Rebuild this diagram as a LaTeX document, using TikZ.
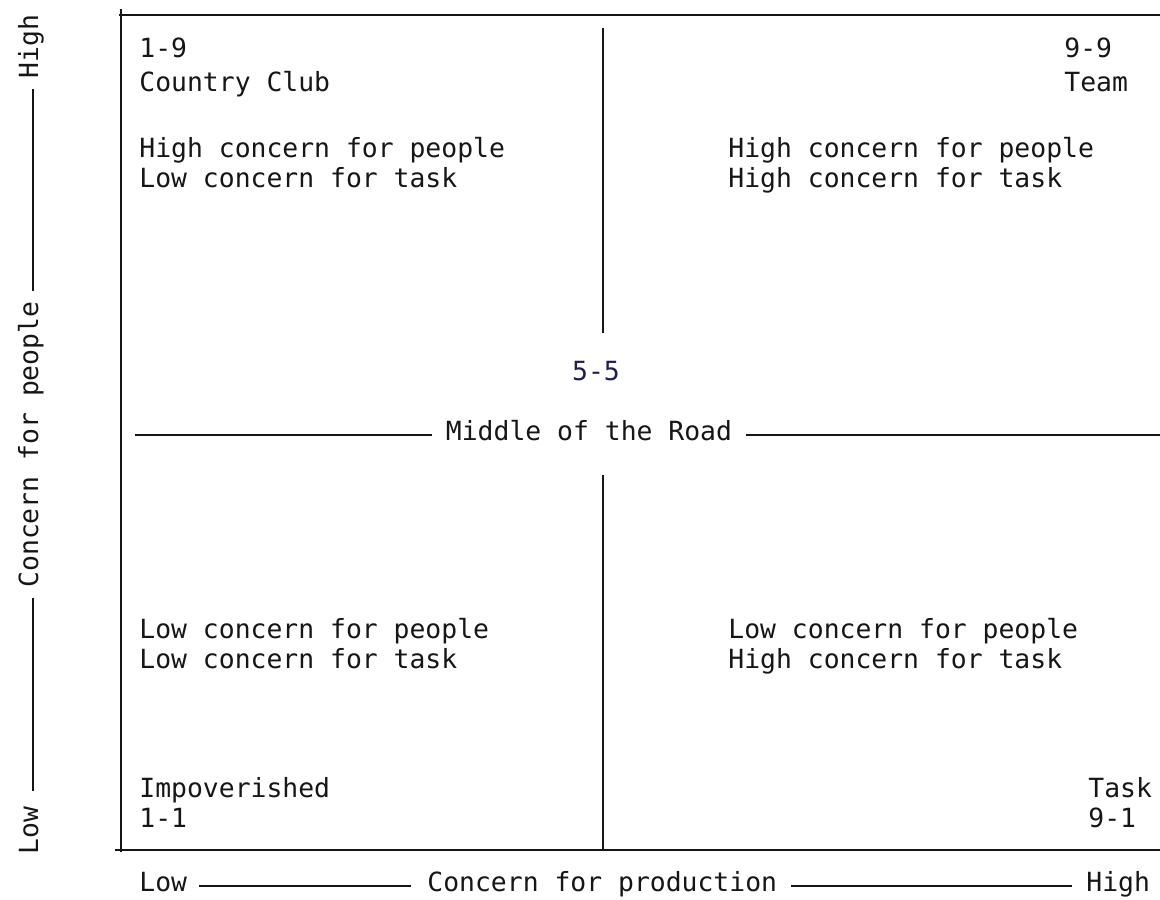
\documentclass[tikz,border=0pt]{standalone}
\usepackage{fontspec}
\newfontfamily\twfont{DejaVu Sans Mono}
\definecolor{ink}{RGB}{22,22,22}
\definecolor{navyink}{RGB}{30,30,80}
\begin{document}
\begin{tikzpicture}[x=0.5pt,y=-0.5pt,
  txt/.style={inner sep=0pt, font=\twfont\fontsize{13.2}{16}\selectfont, text=ink, text height=0.8em, text depth=0.26em},
  rule/.style={draw=ink, line width=0.95pt}]
\useasboundingbox (0,0) rectangle (1160,899);

% frame
\coordinate (fTL) at (121,9);
\coordinate (fBL) at (121,852);
\coordinate (fT1) at (119,15);
\coordinate (fT2) at (1160,15);
\coordinate (fB1) at (115,850);
\coordinate (fB2) at (1160,850);
\draw[rule] (fTL) -- (fBL);
\draw[rule] (fT1) -- (fT2);
\draw[rule] (fB1) -- (fB2);

% centre divider
\coordinate (v1) at (603,28);
\coordinate (v2) at (603,333);
\coordinate (v3) at (603,475);
\coordinate (v4) at (603,850);
\draw[rule] (v1) -- (v2);
\draw[rule] (v3) -- (v4);

% top-left quadrant
\node[txt,anchor=base west] (q1a) at (139,58) {1-9};
\node[txt,anchor=base west] (q1b) at (139,91) {Country Club};
\node[txt,anchor=base west] (q1c) at (139,157) {High concern for people};
\node[txt,anchor=base west] (q1d) at (139,187) {Low concern for task};

% top-right quadrant
\node[txt,anchor=base west] (q2a) at (1064,58) {9-9};
\node[txt,anchor=base west] (q2b) at (1064,91) {Team};
\node[txt,anchor=base west] (q2c) at (728,157) {High concern for people};
\node[txt,anchor=base west] (q2d) at (728,187) {High concern for task};

% middle
\node[txt,text=navyink,anchor=base] (c55) at (596,380) {5-5};
\node[txt] (mid) at (589,435) {Middle of the Road};
\coordinate (mL) at (135,435);
\coordinate (mR) at (1160,435);
\draw[rule, shorten >=7pt] (mL) -- (mid.west);
\draw[rule, shorten <=7pt] (mid.east) -- (mR);

% bottom-left quadrant
\node[txt,anchor=base west] (q3a) at (139,638) {Low concern for people};
\node[txt,anchor=base west] (q3b) at (139,668) {Low concern for task};
\node[txt,anchor=base west] (q3c) at (139,797) {Impoverished};
\node[txt,anchor=base west] (q3d) at (139,827) {1-1};

% bottom-right quadrant
\node[txt,anchor=base west] (q4a) at (728,638) {Low concern for people};
\node[txt,anchor=base west] (q4b) at (728,668) {High concern for task};
\node[txt,anchor=base west] (q4c) at (1088,797) {Task};
\node[txt,anchor=base west] (q4d) at (1088,827) {9-1};

% horizontal axis
\node[txt,anchor=base west] (xlo) at (139,891) {Low};
\node[txt,anchor=base west] (xmid) at (427,891) {Concern for production};
\node[txt,anchor=base west] (xhi) at (1086,891) {High};
\draw[rule, shorten <=6pt, shorten >=8pt] (xlo.east) -- (xmid.west);
\draw[rule, shorten <=7pt, shorten >=7pt] (xmid.east) -- (xhi.west);

% vertical axis
\node[txt,rotate=90,anchor=base west] (ylo) at (38,855) {Low};
\node[txt,rotate=90,anchor=base west] (ymid) at (38,588) {Concern for people};
\node[txt,rotate=90,anchor=base west] (yhi) at (38,79) {High};
\draw[rule, shorten <=8pt, shorten >=5pt] (ylo.east) -- (ymid.west);
\draw[rule, shorten <=5pt, shorten >=5pt] (ymid.east) -- (yhi.west);
\end{tikzpicture}
\end{document}
